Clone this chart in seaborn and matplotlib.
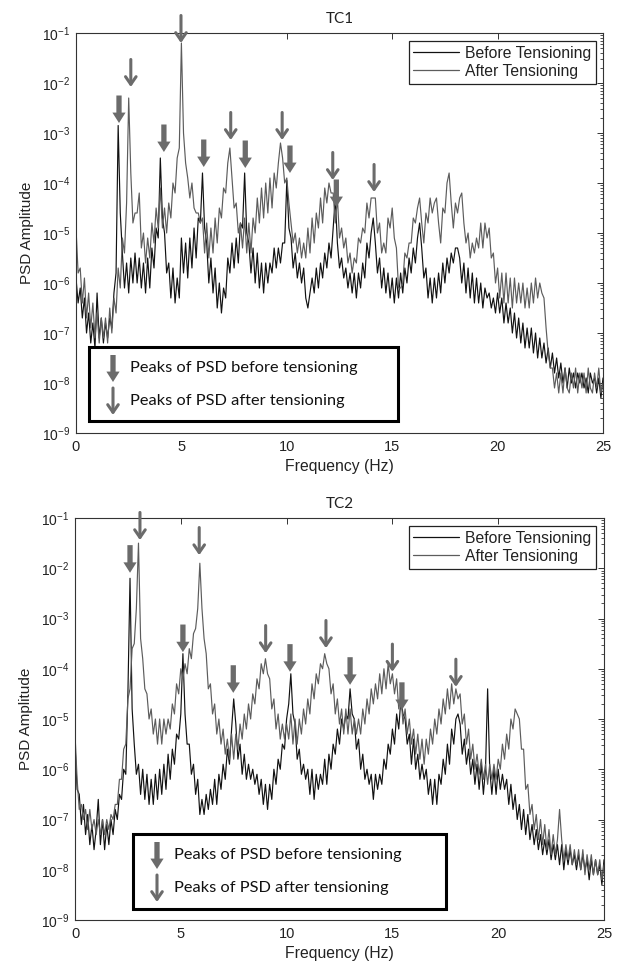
import numpy as np
import matplotlib
matplotlib.use("Agg")
import matplotlib.pyplot as plt
import seaborn as sns
from matplotlib.patches import Rectangle
from matplotlib.lines import Line2D
from matplotlib.ticker import LogLocator, NullFormatter, FixedLocator

# ---------------- data (log10 of PSD amplitude, 0.1 Hz steps, 0..25 Hz) ----------------
freq_hz = np.linspace(0.0, 25.0, 251)

tc1_before_log = [
    -5.9, -6.4, -6.1, -6.7, -6.3, -7.0, -6.6, -7.2, -6.8, -7.3,
    -6.2, -7.1, -6.7, -7.2, -6.8, -7.1, -6.7, -6.9, -6.2, -5.8,
    -2.85, -4.6, -5.4, -6.1, -5.6, -6.2, -5.5, -6.0, -5.4, -6.0,
    -5.5, -6.1, -5.6, -6.2, -5.5, -6.1, -5.3, -5.7, -4.9, -5.1,
    -3.5, -4.7, -5.0, -5.8, -5.6, -6.3, -5.7, -6.4, -5.9, -6.3,
    -5.1, -5.8, -5.2, -5.9, -5.1, -5.7, -4.9, -5.5, -4.7, -4.8,
    -3.8, -4.9, -5.2, -6.0, -5.5, -6.2, -5.7, -6.5, -6.0, -6.6,
    -6.1, -6.3, -5.5, -5.8, -5.2, -5.7, -5.1, -5.6, -4.8, -4.9,
    -3.8, -5.0, -5.2, -5.8, -5.3, -6.0, -5.4, -6.1, -5.6, -6.2,
    -5.6, -6.0, -5.6, -5.8, -5.3, -5.7, -5.3, -5.6, -5.2, -5.2,
    -3.95, -4.9, -5.1, -5.7, -5.4, -5.9, -5.6, -6.0, -5.7, -6.3,
    -6.5, -6.2, -5.9, -6.2, -5.7, -6.1, -5.6, -5.9, -5.4, -5.7,
    -5.2, -5.5, -4.9, -4.3, -5.2, -5.7, -5.5, -5.9, -5.7, -6.1,
    -5.8, -6.2, -5.8, -6.3, -5.8, -6.1, -5.6, -5.9, -5.2, -5.5,
    -5.0, -4.7, -5.2, -5.8, -5.5, -6.1, -5.7, -6.2, -5.8, -6.3,
    -5.9, -6.4, -5.9, -6.3, -5.8, -6.2, -5.7, -6.0, -5.5, -5.8,
    -5.3, -5.6, -5.1, -4.8, -5.3, -5.9, -5.7, -6.3, -5.9, -6.4,
    -5.9, -6.3, -5.8, -6.2, -5.6, -6.0, -5.5, -5.8, -5.4, -5.6,
    -5.3, -5.3, -5.5, -6.0, -5.6, -6.2, -5.7, -6.3, -5.8, -6.4,
    -5.9, -6.4, -6.0, -6.5, -6.1, -6.3, -6.2, -6.5, -6.3, -6.6,
    -6.2, -6.6, -6.3, -6.8, -6.4, -6.8, -6.5, -7.0, -6.6, -7.1,
    -6.7, -7.2, -6.8, -7.3, -6.9, -7.3, -6.9, -7.4, -7.0, -7.5,
    -7.1, -7.5, -7.2, -7.6, -7.3, -7.7, -7.4, -7.8, -7.5, -7.9,
    -7.6, -8.0, -7.7, -8.1, -7.7, -8.0, -7.8, -8.1, -7.8, -8.0,
    -7.8, -8.1, -7.9, -8.2, -7.8, -8.0, -7.9, -8.2, -7.9, -8.3,
    -7.9,
]

tc1_after_log = [
    -4.9, -5.8, -5.7, -6.4, -5.9, -6.7, -6.2, -6.9, -6.4, -7.1,
    -6.6, -7.2, -6.7, -7.1, -6.7, -7.2, -6.5, -7.0, -6.3, -6.6,
    -5.7, -6.1, -5.1, -5.4, -4.4, -2.3, -3.8, -4.8, -4.6, -4.6,
    -4.2, -5.3, -5.0, -5.6, -5.1, -5.5, -4.8, -5.2, -4.5, -4.9,
    -4.1, -4.9, -4.5, -5.0, -4.4, -4.7, -4.0, -4.2, -3.5, -3.3,
    -1.2, -3.0, -3.6, -3.9, -4.3, -4.0, -4.5, -4.6, -4.6, -4.8,
    -4.7, -5.4, -4.8, -5.5, -4.9, -5.4, -4.7, -5.2, -4.5, -4.7,
    -4.1, -4.2, -3.6, -3.3, -3.9, -4.5, -4.4, -5.0, -4.8, -5.3,
    -4.7, -5.4, -4.8, -5.4, -4.7, -5.0, -4.3, -4.8, -4.1, -4.7,
    -4.0, -4.6, -3.9, -4.5, -3.8, -4.1, -3.6, -3.2, -3.5, -4.0,
    -3.9, -4.4, -4.8, -5.2, -5.0, -5.4, -5.1, -5.5, -5.2, -5.5,
    -4.9, -5.4, -4.7, -5.2, -4.6, -4.9, -4.3, -4.8, -4.1, -4.4,
    -4.0, -4.2, -4.2, -4.8, -4.3, -5.1, -4.9, -5.3, -5.1, -5.6,
    -5.4, -5.8, -5.5, -5.6, -5.1, -5.2, -4.9, -5.0, -4.4, -4.7,
    -4.3, -4.3, -4.3, -5.0, -4.8, -5.4, -5.2, -5.4, -4.7, -4.9,
    -4.5, -5.1, -5.3, -6.1, -6.1, -6.0, -5.4, -5.5, -5.2, -5.2,
    -4.7, -4.8, -4.5, -4.3, -4.8, -5.2, -4.6, -4.8, -4.3, -4.6,
    -4.4, -4.3, -4.8, -5.2, -4.5, -4.6, -4.0, -3.8, -4.4, -4.9,
    -4.4, -4.6, -4.3, -4.2, -4.8, -5.2, -5.0, -5.5, -5.2, -5.4,
    -5.1, -5.3, -4.8, -5.3, -4.8, -5.1, -4.9, -5.5, -5.4, -6.0,
    -5.7, -6.3, -5.8, -6.4, -5.8, -6.4, -5.9, -6.5, -5.9, -6.4,
    -6.0, -6.4, -6.0, -6.5, -6.1, -6.5, -6.0, -6.4, -5.9, -6.3,
    -6.0, -6.2, -6.3, -6.9, -7.4, -7.7, -7.7, -8.1, -7.8, -8.2,
    -7.8, -8.2, -7.7, -8.1, -8.2, -7.8, -8.1, -7.7, -8.2, -7.8,
    -8.1, -7.8, -8.2, -7.7, -8.1, -8.2, -7.8, -8.1, -7.7, -8.2,
    -8.0,
]

tc2_before_log = [
    -5.5, -6.4, -6.5, -7.1, -6.7, -7.3, -6.9, -7.5, -7.1, -7.6,
    -7.2, -6.6, -7.5, -7.0, -7.6, -7.1, -7.5, -7.0, -7.3, -6.8,
    -7.0, -6.5, -6.6, -6.0, -6.1, -4.5, -2.2, -4.8, -5.5, -6.1,
    -5.9, -6.5, -6.0, -6.6, -6.1, -6.7, -6.2, -6.7, -6.1, -6.6,
    -6.0, -6.5, -5.9, -6.4, -5.7, -6.2, -5.6, -5.9, -5.3, -5.4,
    -4.9, -3.7, -4.9, -5.5, -5.5, -6.1, -5.9, -6.5, -6.2, -6.9,
    -6.6, -6.9, -6.5, -6.8, -6.4, -6.7, -6.2, -6.7, -6.1, -6.4,
    -5.9, -6.2, -5.6, -5.9, -5.2, -4.6, -5.1, -5.8, -5.5, -6.1,
    -5.7, -6.2, -5.9, -6.2, -6.0, -6.3, -6.1, -6.5, -6.2, -6.7,
    -6.3, -6.8, -6.3, -6.6, -6.0, -6.3, -5.8, -6.0, -5.5, -5.6,
    -5.0, -4.7, -4.1, -4.9, -5.1, -5.8, -5.6, -6.1, -5.9, -6.2,
    -6.0, -6.5, -6.0, -6.6, -6.1, -6.4, -6.1, -6.3, -5.8, -6.3,
    -5.7, -6.0, -5.5, -5.7, -5.2, -5.5, -5.0, -5.2, -4.9, -5.0,
    -4.4, -4.9, -5.0, -5.6, -5.4, -6.0, -5.7, -6.2, -6.0, -6.3,
    -6.1, -6.6, -6.1, -6.4, -6.1, -6.3, -5.8, -6.0, -5.5, -5.7,
    -5.2, -5.5, -4.9, -5.2, -4.6, -4.9, -5.0, -5.5, -5.3, -5.9,
    -5.4, -6.0, -5.7, -6.2, -5.9, -6.2, -6.0, -6.5, -6.2, -6.7,
    -6.2, -6.7, -6.1, -6.3, -5.8, -6.1, -5.5, -5.9, -5.2, -5.5,
    -5.0, -4.9, -5.1, -5.7, -5.4, -5.9, -5.6, -6.1, -5.8, -6.3,
    -5.9, -6.4, -5.9, -6.5, -6.0, -4.4, -6.0, -6.5, -6.0, -6.5,
    -6.0, -6.4, -6.1, -6.4, -6.2, -6.7, -6.3, -6.8, -6.5, -7.0,
    -6.7, -7.2, -6.8, -7.3, -6.9, -7.4, -7.1, -7.5, -7.2, -7.6,
    -7.3, -7.7, -7.4, -7.7, -7.4, -7.8, -7.5, -7.8, -7.5, -7.9,
    -7.5, -8.0, -7.6, -7.9, -7.6, -7.9, -7.7, -8.0, -7.7, -8.0,
    -7.7, -8.0, -7.8, -8.2, -7.8, -8.1, -7.8, -8.1, -7.9, -8.3,
    -7.8,
]

tc2_after_log = [
    -5.3, -6.2, -6.8, -6.7, -7.0, -6.8, -7.2, -6.8, -7.2, -7.0,
    -7.3, -7.0, -7.3, -7.0, -7.3, -7.0, -7.2, -6.9, -7.0, -6.7,
    -6.7, -6.2, -6.2, -5.6, -5.5, -4.6, -4.4, -3.6, -3.5, -2.8,
    -1.5, -3.4, -3.8, -4.4, -4.5, -5.0, -4.8, -5.3, -5.0, -5.5,
    -5.0, -5.5, -5.0, -5.3, -5.0, -5.2, -4.7, -4.9, -4.3, -4.5,
    -4.0, -4.2, -3.9, -4.1, -3.6, -3.8, -3.3, -3.2, -2.8, -1.9,
    -2.8, -3.4, -3.7, -4.4, -4.3, -4.9, -4.7, -5.3, -5.0, -5.5,
    -5.2, -5.7, -5.4, -5.8, -5.3, -5.8, -5.3, -5.6, -5.1, -5.4,
    -4.9, -5.2, -4.7, -5.0, -4.5, -4.7, -4.2, -4.4, -3.9, -4.1,
    -3.8, -4.1, -4.2, -4.8, -4.6, -5.2, -4.9, -5.4, -5.1, -5.4,
    -5.1, -5.4, -4.9, -5.5, -5.0, -5.5, -5.0, -5.3, -4.8, -5.1,
    -4.6, -4.9, -4.3, -4.6, -4.1, -4.3, -3.9, -4.0, -3.7, -3.9,
    -4.0, -4.5, -4.3, -4.9, -4.6, -5.1, -4.8, -5.3, -4.8, -5.3,
    -4.8, -5.3, -5.0, -5.3, -5.0, -5.3, -4.8, -5.1, -4.6, -4.9,
    -4.4, -4.7, -4.3, -4.6, -4.1, -4.5, -4.0, -4.4, -3.9, -4.3,
    -4.1, -4.5, -4.2, -4.8, -4.5, -5.1, -4.8, -5.3, -5.0, -5.5,
    -5.2, -5.7, -5.3, -5.8, -5.4, -5.9, -5.4, -5.7, -5.2, -5.5,
    -5.0, -5.3, -4.8, -5.1, -4.6, -4.9, -4.4, -4.8, -4.3, -4.7,
    -4.4, -4.6, -4.5, -5.1, -4.9, -5.5, -5.2, -5.8, -5.5, -6.0,
    -5.7, -6.1, -5.8, -6.2, -5.9, -6.3, -5.9, -6.2, -5.9, -6.2,
    -5.8, -6.0, -5.5, -5.8, -5.3, -5.6, -5.0, -5.2, -4.8, -4.9,
    -5.0, -5.6, -5.6, -6.4, -6.3, -6.9, -6.7, -7.2, -6.9, -7.4,
    -7.0, -7.5, -7.1, -7.6, -7.2, -7.7, -7.3, -7.7, -7.4, -6.8,
    -7.4, -7.8, -7.5, -7.8, -7.5, -7.9, -7.6, -7.9, -7.6, -8.0,
    -7.6, -8.1, -7.7, -8.0, -7.7, -8.1, -7.8, -8.1, -7.8, -8.2,
    -7.9,
]

# peak markers: (frequency, log10 level of the arrow tip)
tc1_before_peaks = [(2.04, -2.80), (4.17, -3.38), (6.06, -3.68), (8.03, -3.70), (10.15, -3.80), (12.35, -4.48)]
tc1_after_peaks = [(2.60, -2.08), (4.98, -1.20), (7.34, -3.14), (9.78, -3.14), (12.18, -3.94), (14.14, -4.18)]
tc2_before_peaks = [(2.60, -2.09), (5.10, -3.67), (7.48, -4.48), (10.16, -4.06), (13.00, -4.32), (15.45, -4.82)]
tc2_after_peaks = [(3.07, -1.44), (5.87, -1.74), (9.01, -3.69), (11.86, -3.59), (15.00, -4.06), (18.00, -4.36)]

series_labels = ["Before Tensioning", "After Tensioning"]
marker_labels = ["Peaks of PSD before tensioning", "Peaks of PSD after tensioning"]
panel_titles = ["TC1", "TC2"]

# ---------------- styling ----------------
sns.set_theme(style="white")
plt.rcParams['font.family'] = ['Liberation Sans', 'DejaVu Sans']
plt.rcParams['mathtext.fontset'] = 'custom'
plt.rcParams['mathtext.rm'] = 'Liberation Sans'
plt.rcParams['mathtext.it'] = 'Liberation Sans'

BLACK = "#111111"
GRAY = "#5c5c5c"
ARROW = "#6b6b6b"

fig = plt.figure(figsize=(6.2, 9.63), dpi=100)
ax1 = fig.add_axes([76 / 620, (963 - 433) / 963, 527 / 620, 400 / 963])
ax2 = fig.add_axes([75 / 620, (963 - 920) / 963, 529 / 620, 402 / 963])


def filled_arrow(ax, x, y_tip, y_tail, coords="data"):
    ax.annotate("", xy=(x, y_tip), xytext=(x, y_tail), xycoords=coords, textcoords=coords,
                arrowprops=dict(arrowstyle="simple,head_length=0.75,head_width=0.95,tail_width=0.38",
                                fc=ARROW, ec="none", shrinkA=0, shrinkB=0, mutation_scale=10),
                annotation_clip=False, zorder=6)


def open_arrow(ax, x, y_tip, y_tail, coords="data"):
    ax.annotate("", xy=(x, y_tip), xytext=(x, y_tail), xycoords=coords, textcoords=coords,
                arrowprops=dict(arrowstyle="->,head_length=0.55,head_width=0.38",
                                color=ARROW, lw=2.2, shrinkA=0, shrinkB=0, mutation_scale=10),
                annotation_clip=False, zorder=6)


panels = [
    (ax1, tc1_before_log, tc1_after_log, tc1_before_peaks, tc1_after_peaks, panel_titles[0],
     (89, 347, 398, 421), 76, 33, 527, 400),
    (ax2, tc2_before_log, tc2_after_log, tc2_before_peaks, tc2_after_peaks, panel_titles[1],
     (133, 834, 446, 909), 75, 518, 529, 402),
]

for ax, before, after, bpk, apk, title, box, ax_x0, ax_y0, ax_w, ax_h in panels:
    before_vals = 10.0 ** np.array(before)
    after_vals = 10.0 ** np.array(after)
    sns.lineplot(x=freq_hz, y=before_vals, ax=ax, color=BLACK, lw=0.85, estimator=None, sort=False)
    sns.lineplot(x=freq_hz, y=after_vals, ax=ax, color=GRAY, lw=0.85, estimator=None, sort=False)
    ax.set_yscale("log")
    ax.set_xlim(0, 25)
    ax.set_ylim(1e-9, 1e-1)
    ax.xaxis.set_major_locator(FixedLocator([0, 5, 10, 15, 20, 25]))
    ax.yaxis.set_major_locator(LogLocator(base=10, numticks=20))
    ax.yaxis.set_minor_locator(LogLocator(base=10, subs=np.arange(2, 10), numticks=20))
    ax.yaxis.set_minor_formatter(NullFormatter())
    ax.tick_params(which="both", direction="in", top=True, right=True, colors="#333333",
                   labelcolor="#222222")
    ax.tick_params(axis="x", labelsize=10.5, pad=5)
    ax.tick_params(axis="y", labelsize=10, pad=4)
    ax.tick_params(which="major", length=4, width=0.7)
    ax.tick_params(which="minor", length=2, width=0.6)
    for s in ax.spines.values():
        s.set_color("#333333")
        s.set_linewidth(0.8)

    ax.set_title(title, fontfamily=["Lato", "DejaVu Sans"], fontsize=11, color="#222222", pad=7)
    ax.set_xlabel("Frequency (Hz)", fontsize=11.3, color="#222222")
    ax.set_ylabel("PSD Amplitude", fontsize=11, color="#222222")
    ax.xaxis.set_label_coords(0.5, -33 / ax_h)
    ax.xaxis.label.set_va("center")
    ax.yaxis.set_label_coords(-49 / ax_w, 0.5)
    ax.yaxis.label.set_va("center")

    # peak arrows
    for fx, lv in bpk:
        filled_arrow(ax, fx, 10.0 ** lv, 10.0 ** (lv + 0.55))
    for fx, lv in apk:
        open_arrow(ax, fx, 10.0 ** lv, 10.0 ** (lv + 0.55))

    # series legend
    handles = [Line2D([], [], color=BLACK, lw=0.9), Line2D([], [], color=GRAY, lw=0.9)]
    leg = ax.legend(handles, series_labels, loc="upper right",
                    bbox_to_anchor=((596 - ax_x0) / ax_w, 1 - 8 / ax_h),
                    frameon=True, fancybox=False, edgecolor="#222222", framealpha=1,
                    fontsize=11.3, handlelength=2.9, handletextpad=0.4, borderpad=0.3,
                    labelspacing=0.2, borderaxespad=0)
    leg.get_frame().set_linewidth(0.9)
    for t in leg.get_texts():
        t.set_color("#222222")

    # marker legend box
    bx0, by0, bx1, by1 = box
    fx0 = (bx0 - ax_x0) / ax_w
    fx1 = (bx1 - ax_x0) / ax_w
    fy_top = 1 - (by0 - ax_y0) / ax_h
    fy_bot = 1 - (by1 - ax_y0) / ax_h
    ax.add_patch(Rectangle((fx0, fy_bot), fx1 - fx0, fy_top - fy_bot, transform=ax.transAxes,
                           fc="white", ec="black", lw=2.2, zorder=5, clip_on=False))
    ax_arrow_x = (bx0 + 24 - ax_x0) / ax_w
    row1_top = 1 - (by0 + 8 - ax_y0) / ax_h
    row1_tip = 1 - (by0 + 35 - ax_y0) / ax_h
    row2_top = 1 - (by0 + 41 - ax_y0) / ax_h
    row2_tip = 1 - (by0 + 68 - ax_y0) / ax_h
    filled_arrow(ax, ax_arrow_x, row1_tip, row1_top, coords="axes fraction")
    open_arrow(ax, ax_arrow_x, row2_tip, row2_top, coords="axes fraction")
    tx = (bx0 + 41 - ax_x0) / ax_w
    ax.text(tx, 1 - (by0 + 21 - ax_y0) / ax_h, marker_labels[0], transform=ax.transAxes,
            fontfamily=["Lato", "DejaVu Sans"], fontsize=11.8, va="center", ha="left",
            color="#111111", zorder=7)
    ax.text(tx, 1 - (by0 + 54 - ax_y0) / ax_h, marker_labels[1], transform=ax.transAxes,
            fontfamily=["Lato", "DejaVu Sans"], fontsize=11.8, va="center", ha="left",
            color="#111111", zorder=7)

fig.savefig("out.png", dpi=100, facecolor="white")
